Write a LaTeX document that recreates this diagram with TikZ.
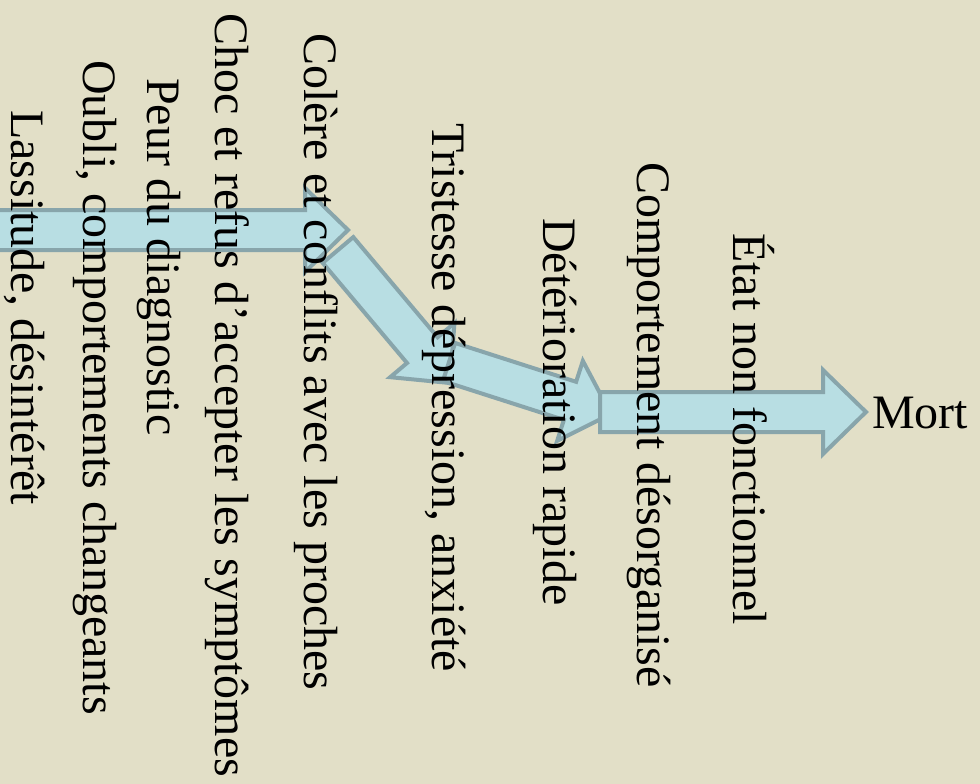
\documentclass[tikz,border=0pt]{standalone}
\usepackage{fontspec}
\setmainfont{Liberation Serif}
\definecolor{bgcol}{RGB}{226,223,199}
\definecolor{arrfill}{RGB}{184,222,227}
\definecolor{arrline}{RGB}{136,165,171}
\tikzset{
  arrowstyle/.style={draw=arrline, fill=arrfill, line width=4pt, line join=miter},
  vtext/.style={rotate=-90, anchor=base west, inner sep=0pt, font=\fontsize{48}{58}\selectfont},
  htext/.style={anchor=base west, inner sep=0pt, font=\fontsize{48}{58}\selectfont},
  pics/blockarrow/.style={code={
    \draw[arrowstyle] (0,-20) -- ({#1-43},-20) -- ({#1-43},-42) -- (#1,0)
      -- ({#1-43},42) -- ({#1-43},20) -- (0,20) -- cycle;}}
}
\begin{document}
\begin{tikzpicture}[x=1pt,y=-1pt]
\useasboundingbox (0,0) rectangle (980,784);
\fill[bgcol] (0,0) rectangle (980,784);
\clip (0,0) rectangle (980,784);
% block arrows
\coordinate (a1s) at (-10,230);
\coordinate (a2s) at (338,250);
\coordinate (a3s) at (449,362);
\coordinate (a4s) at (600,412);
\pic at (a1s) {blockarrow=358};
\pic[rotate=-49.9] at (a2s) {blockarrow=173.9};
\pic[rotate=-17.8] at (a3s) {blockarrow=170.1};
\pic at (a4s) {blockarrow=266};
% texts
\node[vtext] (t1) at (12,110) {Lassitude, désintérêt};
\node[vtext] (t2) at (83,60) {Oubli, comportements changeants};
\node[vtext] (t3) at (147,78) {Peur du diagnostic};
\node[vtext] (t4) at (215,13) {Choc et refus d’accepter les symptômes};
\node[vtext] (t5) at (304,33) {Colère et conflits avec les proches};
\node[vtext] (t6) at (432,123) {Tristesse dépression, anxiété};
\node[vtext] (t7) at (543,218) {Détérioration rapide};
\node[vtext] (t8) at (637,162) {Comportement désorganisé};
\node[vtext] (t9) at (733,233) {État non fonctionnel};
\node[htext] (t10) at (872,428) {Mort};
\end{tikzpicture}
\end{document}
